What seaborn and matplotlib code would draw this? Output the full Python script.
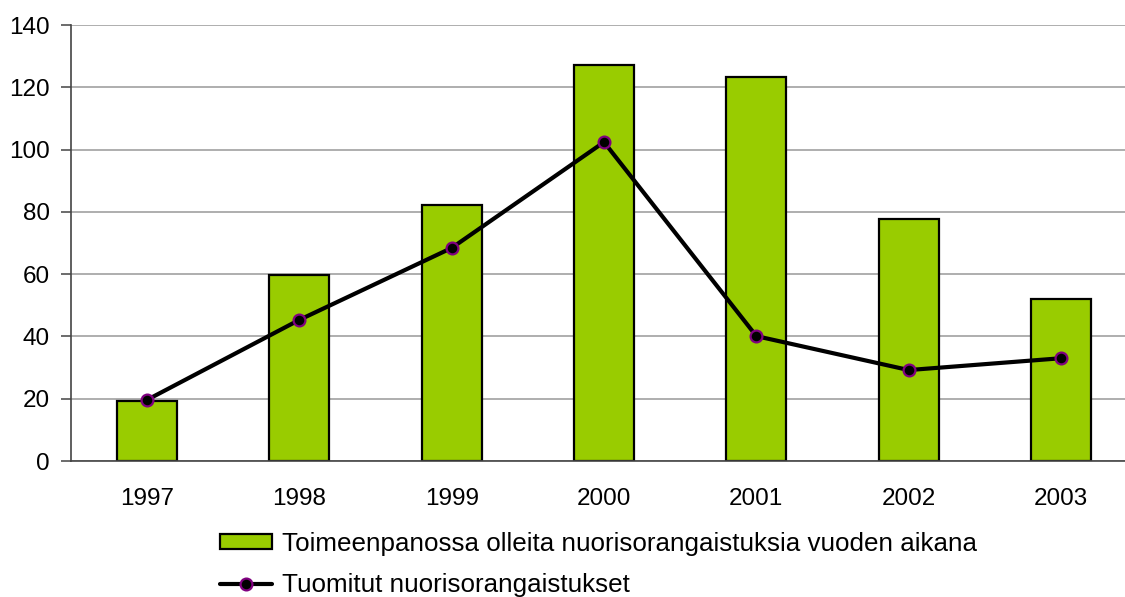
import matplotlib
matplotlib.use("Agg")
import matplotlib.pyplot as plt
import numpy as np
import pandas as pd
import seaborn as sns
from matplotlib.lines import Line2D
from matplotlib.patches import Patch

# Data
years = ["1997", "1998", "1999", "2000", "2001", "2002", "2003"]
in_force = [19.3, 59.8, 82.2, 127.2, 123.3, 77.7, 52.0]
sentenced = [19.6, 45.3, 68.4, 102.4, 40.1, 29.2, 33.0]
y_ticks = [0, 20, 40, 60, 80, 100, 120, 140]

bar_label = "Toimeenpanossa olleita nuorisorangaistuksia vuoden aikana"
line_label = "Tuomitut nuorisorangaistukset"

sns.set_style("white")
plt.rcParams["font.family"] = ["Liberation Sans", "DejaVu Sans"]
plt.rcParams["text.color"] = "black"

df = pd.DataFrame({"year": years, "in_force": in_force, "sentenced": sentenced})

fig = plt.figure(figsize=(11.25, 5.97), dpi=100)
ax = fig.add_axes([70.7 / 1125, 136 / 597, 1066.6 / 1125, 436 / 597])

line_kw = dict(markersize=8.5, markerfacecolor="black",
               markeredgecolor="#800080", markeredgewidth=1.6)

sns.barplot(data=df, x="year", y="in_force", color="#99CC00", saturation=1,
            width=0.395, edgecolor="black", linewidth=1.6, ax=ax, zorder=2)
sns.pointplot(data=df, x="year", y="sentenced", color="black", linewidth=3,
              markers="o", ax=ax, zorder=3, **line_kw)

ax.set_xlim(-0.5, len(years) - 0.5)
ax.set_ylim(0, 140)
ax.set_yticks(y_ticks)
ax.set_xlabel("")
ax.set_ylabel("")

ax.yaxis.grid(True, color="#999999", linewidth=1.1, zorder=0)
ax.set_axisbelow(True)
for side in ["top", "right"]:
    ax.spines[side].set_visible(False)
for side in ["left", "bottom"]:
    ax.spines[side].set_color("#444444")
    ax.spines[side].set_linewidth(1.2)

ax.set_xticks(np.arange(-0.5, len(years)), minor=True)
ax.tick_params(axis="x", which="major", length=0, pad=19.5, labelsize=17.5, labelcolor="black")
ax.tick_params(axis="x", which="minor", length=7, width=1.1, color="#444444", direction="out")
ax.tick_params(axis="y", length=7, width=1.1, color="#444444", pad=8, labelsize=17.5,
               labelcolor="black", left=True, direction="out")

handles = [
    Patch(facecolor="#99CC00", edgecolor="black", linewidth=1.6),
    Line2D([0], [0], color="black", linewidth=3, marker="o", **line_kw),
]
fig.legend(handles, [bar_label, line_label], loc="upper left",
           bbox_to_anchor=(220 / 1125, 1 - 532 / 597), frameon=False,
           fontsize=18.7, handlelength=2.0, handleheight=0.5, handletextpad=0.38,
           labelspacing=0.65, borderpad=0, borderaxespad=0)

fig.savefig("out.png", dpi=100)
